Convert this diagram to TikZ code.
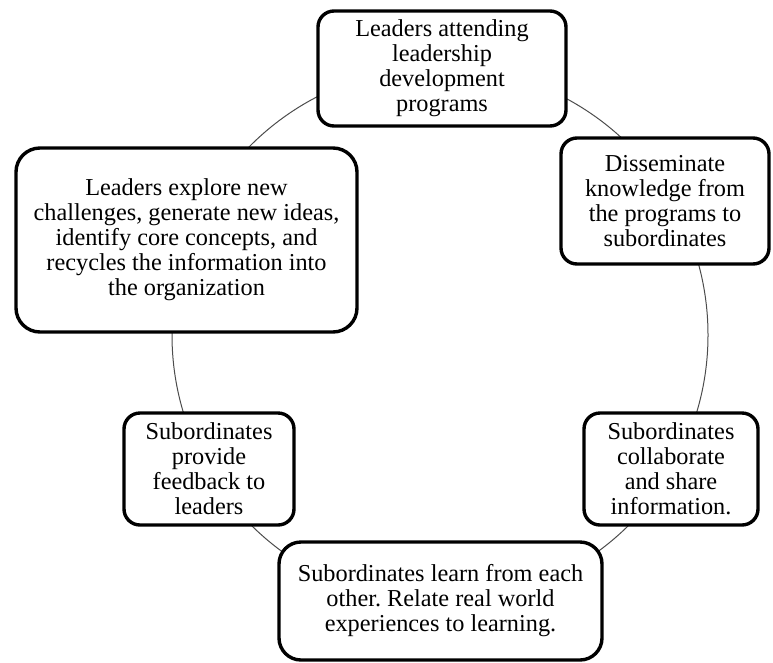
\documentclass[tikz,border=0pt]{standalone}
\usepackage{fontspec}
\setmainfont{Liberation Serif}
\frenchspacing
\begin{document}
\begin{tikzpicture}[x=1pt,y=1pt]
\tikzset{
  box/.style={draw=black, line width=3.4pt, fill=white, rounded corners=16pt,
    align=center, inner sep=0pt, font=\fontsize{24.3}{25}\selectfont},
  ring/.style={line width=1pt, draw=black!70}
}
\useasboundingbox (0,0) rectangle (773,-662);
\coordinate (c) at (440,-335);
\draw[ring] (c) circle (268);
\node[box, minimum width=248, minimum height=115] (top) at (442,-68.5)
  {Leaders attending\\leadership\\development\\programs};
\node[box, minimum width=208, minimum height=126] (rtop) at (665,-201)
  {Disseminate\\knowledge from\\the programs to\\subordinates};
\node[box, rounded corners=24pt, minimum width=341, minimum height=184] (lbig) at (186.5,-240)
  {Leaders explore new\\challenges, generate new ideas,\\identify core concepts, and\\recycles the information into\\the organization};
\node[box, minimum width=170, minimum height=112] (lbot) at (209,-469)
  {Subordinates\\provide\\feedback to\\leaders};
\node[box, minimum width=174, minimum height=112] (rbot) at (671,-469)
  {Subordinates\\collaborate\\and share\\information.};
\node[box, rounded corners=22pt, minimum width=323, minimum height=118] (bot) at (440.5,-601)
  {Subordinates learn from each\\other. Relate real world\\experiences to learning.};
\end{tikzpicture}
\end{document}
